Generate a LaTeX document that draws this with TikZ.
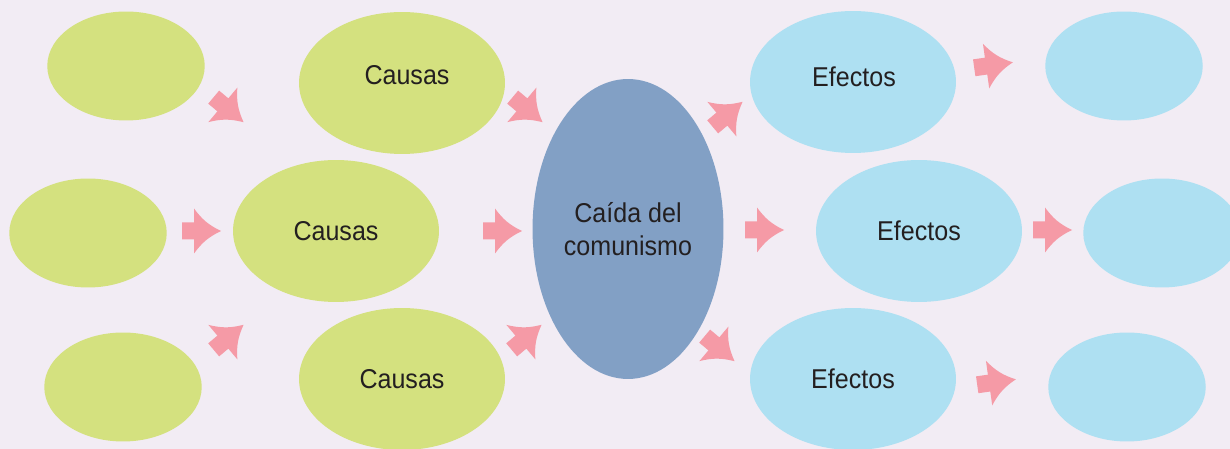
\documentclass[tikz,border=0pt]{standalone}
\usepackage{fontspec}
\setmainfont{Liberation Sans}[FakeStretch=0.92]
\usetikzlibrary{shapes.geometric}
\definecolor{fondo}{HTML}{F2ECF4}
\definecolor{verde}{HTML}{D4E17F}
\definecolor{azul}{HTML}{82A0C5}
\definecolor{celeste}{HTML}{AEE0F2}
\definecolor{rosa}{HTML}{F59AA6}
\definecolor{texto}{HTML}{231F20}
\begin{document}
\begin{tikzpicture}[x=0.02cm,y=0.02cm, font=\fontsize{15.5}{18.7}\selectfont, text=texto, line join=round]
	\tikzset{
		ovalo/.style={ellipse, inner sep=0pt, outer sep=0pt},
		chico/.style={ovalo, minimum width=3.15cm, minimum height=2.18cm},
		grande/.style={ovalo, minimum width=4.12cm, minimum height=2.84cm},
		flecha/.pic={% flecha de bloque
			\fill[rosa] (-20,8.5) -- (-8,8.5) -- (-8,22.5) to[bend right=14] (19,0)
				to[bend right=14] (-8,-22.5) -- (-8,-8.5) -- (-20,-8.5) -- cycle;
		}
	}
	\useasboundingbox (0,0) rectangle (1230,449);
	\fill[fondo] (0,0) rectangle (1230,449);
	\clip (0,0) rectangle (1230,449);
	% causas
	\node[chico, fill=verde] (l1) at (126,383) {};
	\node[chico, fill=verde] (l2) at (88,216) {};
	\node[chico, fill=verde] (l3) at (123,62) {};
	\node[grande, fill=verde, label={[name=tc1, shift={(5,8)}]center:Causas}] (c1) at (402,366) {};
	\node[grande, fill=verde] (c2) at (336,218) {Causas};
	\node[grande, fill=verde] (c3) at (402,70) {Causas};
	% centro
	\node[ovalo, fill=azul, minimum width=3.82cm, minimum height=6cm, align=center] (k) at (628,220) {Caída del\\comunismo};
	% efectos
	\node[grande, fill=celeste, label={[name=te1, shift={(1,5)}]center:Efectos}] (e1) at (853,367) {};
	\node[grande, fill=celeste] (e2) at (919,218) {Efectos};
	\node[grande, fill=celeste] (e3) at (853,70) {Efectos};
	\node[chico, fill=celeste] (r1) at (1124,383) {};
	\node[chico, fill=celeste] (r2) at (1162,216) {};
	\node[chico, fill=celeste] (r3) at (1127,62) {};
	% flechas
	\foreach \x/\y/\a in {229/339/-40, 202/218/0, 229/112/40,
		528/339/-40, 503/218/0, 527/112/40,
		728/335/40, 765/219/0, 720/100/-40,
		994/384/8, 1053/219/0, 997/67/8}{
		\pic[rotate=\a] at (\x,\y) {flecha};
	}
\end{tikzpicture}
\end{document}
